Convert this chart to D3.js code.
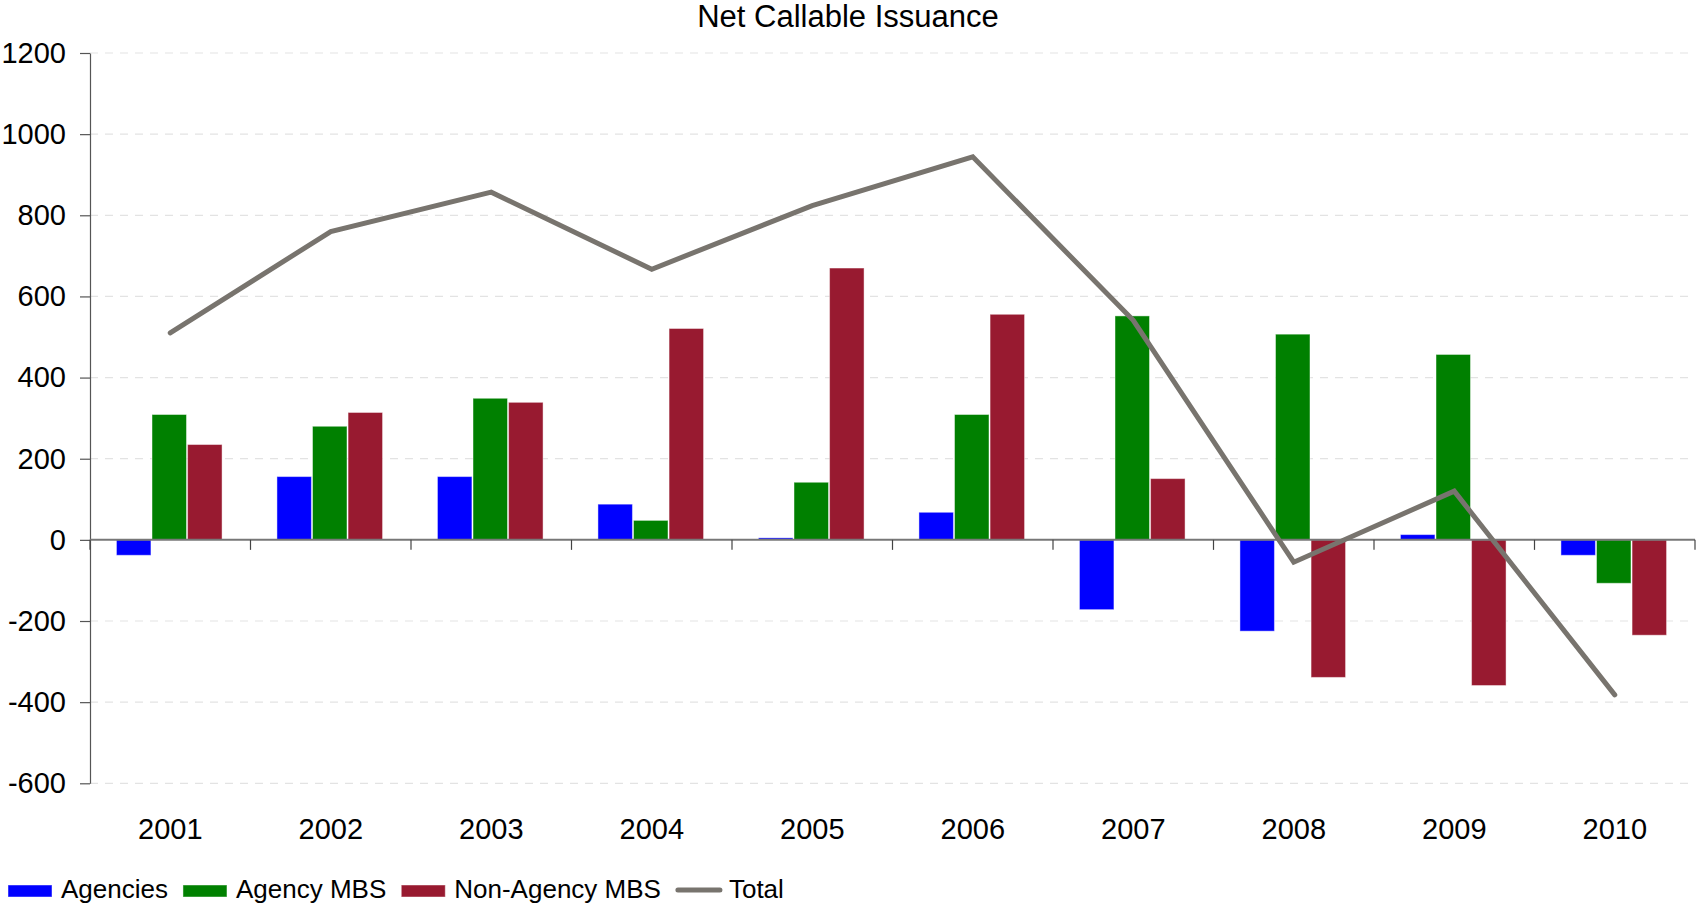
<!DOCTYPE html>
<html><head><meta charset="utf-8">
<script src="https://cdn.jsdelivr.net/npm/d3@7"></script>
<style>
html,body{margin:0;padding:0;background:#fff;}
svg text{font-family:"Liberation Sans",Arial,sans-serif;fill:#000;}
</style></head>
<body><svg id="chart" width="1696" height="908"></svg>
<script>
const title = "Net Callable Issuance";
const years = ["2001","2002","2003","2004","2005","2006","2007","2008","2009","2010"];
const seriesNames = ["Agencies","Agency MBS","Non-Agency MBS"];
const agencies = [-38, 156, 156, 88, 5, 68, -172, -225, 13, -38];
const agencyMBS = [309, 280, 349, 48, 142, 309, 552, 507, 457, -107];
const nonAgencyMBS = [235, 314, 339, 521, 670, 556, 151, -339, -359, -235];
const total = [510, 760, 857, 667, 824, 944, 541, -55, 120, -382];
const totalName = "Total";
const yTicks = [-600, -400, -200, 0, 200, 400, 600, 800, 1000, 1200];
const colors = ["#0000ff", "#008000", "#981a30"];
const lineColor = "#78746e";

const svg = d3.select("#chart");
const pLeft = 90, pRight = 1695, pTop = 53, pBottom = 783.3;

const x0 = d3.scaleBand().domain(years).range([pLeft, pRight]).padding(0);
const bw = x0.bandwidth();
const groupW = bw * 0.658;
const x1 = d3.scaleBand().domain(seriesNames).range([(bw - groupW) / 2 - 1, (bw + groupW) / 2 - 1]).paddingInner(0.03);
const y = d3.scaleLinear().domain([-600, 1200]).range([pBottom, pTop]);

// title
svg.append("text").attr("x", 848).attr("y", 27).attr("text-anchor", "middle")
  .style("font-size", "31px").text(title);

// gridlines
svg.append("g").selectAll("line").data(yTicks.filter(d => d !== 0)).join("line")
  .attr("x1", pLeft).attr("x2", pRight)
  .attr("y1", d => y(d)).attr("y2", d => y(d))
  .attr("stroke", "#e3e3e3").attr("stroke-width", 1.2).attr("stroke-dasharray", "8,7");

// y axis
const yAxis = svg.append("g").attr("transform", `translate(${pLeft},0)`)
  .call(d3.axisLeft(y).tickValues(yTicks).tickSize(10).tickSizeOuter(0).tickPadding(14).tickFormat(d => String(d)));
yAxis.select(".domain").attr("stroke", "#555").attr("stroke-width", 1.2);
yAxis.selectAll(".tick line").attr("stroke", "#555").attr("stroke-width", 1.2);
yAxis.selectAll(".tick text").style("font-size", "29px").attr("fill", "#000");

// bars
const seriesData = [agencies, agencyMBS, nonAgencyMBS];
const gBars = svg.append("g");
seriesData.forEach((vals, si) => {
  gBars.append("g").selectAll("rect").data(vals.map((v, i) => ({v, yr: years[i]}))).join("rect")
    .attr("x", d => x0(d.yr) + x1(seriesNames[si]))
    .attr("width", x1.bandwidth())
    .attr("y", d => y(Math.max(0, d.v)))
    .attr("height", d => Math.abs(y(d.v) - y(0)))
    .attr("fill", colors[si])
    .attr("stroke", "rgba(255,255,255,0.45)").attr("stroke-width", 1);
});

// zero axis line and category ticks
svg.append("line").attr("x1", pLeft).attr("x2", pRight).attr("y1", y(0)).attr("y2", y(0))
  .attr("stroke", "#777").attr("stroke-width", 2);
const boundaries = years.map(d => x0(d)).concat([pRight]);
svg.append("g").selectAll("line").data(boundaries).join("line")
  .attr("x1", d => d).attr("x2", d => d)
  .attr("y1", y(0)).attr("y2", y(0) + 10)
  .attr("stroke", "#444").attr("stroke-width", 1.2);

// x labels
const xAxis = svg.append("g").attr("transform", `translate(0,818)`)
  .call(d3.axisBottom(x0).tickSize(0).tickPadding(0));
xAxis.select(".domain").remove();
xAxis.selectAll(".tick text").style("font-size", "29px").attr("dy", "0.72em").attr("fill", "#000");

// total line
svg.append("path").datum(total)
  .attr("fill", "none").attr("stroke", lineColor).attr("stroke-width", 5)
  .attr("stroke-linejoin", "miter").attr("stroke-linecap", "round")
  .attr("d", d3.line().x((d, i) => x0(years[i]) + bw / 2).y(d => y(d)));

// legend
const leg = svg.append("g");
let lx = 8;
const items = seriesNames.map((n, i) => ({name: n, type: "bar", color: colors[i]}))
  .concat([{name: totalName, type: "line", color: lineColor}]);
items.forEach(it => {
  if (it.type === "bar") {
    leg.append("rect").attr("x", lx).attr("y", 885).attr("width", 44).attr("height", 12)
      .attr("fill", it.color).attr("stroke", "rgba(255,255,255,0.45)");
  } else {
    leg.append("line").attr("x1", lx + 2).attr("x2", lx + 44).attr("y1", 890).attr("y2", 890)
      .attr("stroke", it.color).attr("stroke-width", 5).attr("stroke-linecap", "round");
  }
  const t = leg.append("text").attr("x", lx + 53).attr("y", 898).style("font-size", "26px").text(it.name);
  lx = lx + 53 + t.node().getComputedTextLength() + 15;
});
</script></body></html>
